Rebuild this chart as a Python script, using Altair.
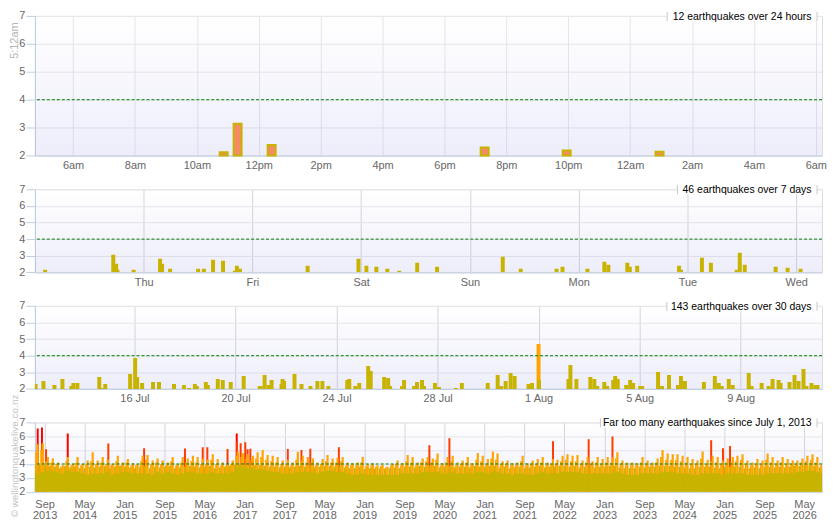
import altair as alt
import pandas as pd

FONT = "Liberation Sans"
OLIVE = "#c8b400"
ORANGE = "#ffa500"
ORANGERED = "#ff3c00"
RED = "#ff0000"
SALMON = "#f38b64"
AXIS_LINE = "#c0d0e0"
LABEL = "#666666"
W = 790

# ---------------- Panel 1: last 24 hours ----------------
p1_time = ["2026-08-11T10:52", "2026-08-11T11:19", "2026-08-11T12:25",
           "2026-08-11T19:18", "2026-08-11T21:57", "2026-08-12T00:57"]
p1_mag = [2.12, 3.14, 2.38, 2.29, 2.18, 2.14]
p1_ticks = ["2026-08-11T06:00", "2026-08-11T08:00", "2026-08-11T10:00", "2026-08-11T12:00",
            "2026-08-11T14:00", "2026-08-11T16:00", "2026-08-11T18:00", "2026-08-11T20:00",
            "2026-08-11T22:00", "2026-08-12T00:00", "2026-08-12T02:00", "2026-08-12T04:00",
            "2026-08-12T06:00"]
p1_domain = ["2026-08-11T04:46", "2026-08-12T06:12"]
p1_title = "12 earthquakes over 24 hours"

# ---------------- Panel 2: last 7 days ----------------
p2_time = ["2026-08-05T02:15", "2026-08-05T17:18", "2026-08-05T17:56", "2026-08-05T18:13", "2026-08-05T21:47",
           "2026-08-06T03:37", "2026-08-06T04:04", "2026-08-06T05:50", "2026-08-06T12:01", "2026-08-06T13:18",
           "2026-08-06T15:19", "2026-08-06T17:31", "2026-08-06T20:07", "2026-08-06T20:35", "2026-08-06T21:15",
           "2026-08-07T12:11", "2026-08-07T23:24",
           "2026-08-08T01:09", "2026-08-08T03:21", "2026-08-08T05:46", "2026-08-08T08:24", "2026-08-08T12:22",
           "2026-08-08T16:45",
           "2026-08-09T07:15", "2026-08-09T11:13", "2026-08-09T19:07", "2026-08-09T20:26",
           "2026-08-10T01:56", "2026-08-10T05:40", "2026-08-10T06:33", "2026-08-10T10:44", "2026-08-10T11:17",
           "2026-08-10T12:55", "2026-08-10T22:09", "2026-08-10T22:35",
           "2026-08-11T03:12", "2026-08-11T05:11", "2026-08-11T10:53", "2026-08-11T11:33", "2026-08-11T12:39",
           "2026-08-11T19:28", "2026-08-11T22:06",
           "2026-08-12T00:58"]
p2_mag = [2.16, 3.06, 2.52, 2.16, 2.16,
          2.82, 2.52, 2.22, 2.22, 2.22, 2.76, 2.70, 2.10, 2.40, 2.22,
          2.40, 2.82,
          2.40, 2.34, 2.22, 2.10, 2.58, 2.34,
          2.94, 2.22, 2.22, 2.34,
          2.22, 2.64, 2.46, 2.58, 2.34, 2.40, 2.40, 2.16,
          2.88, 2.58, 2.16, 3.18, 2.46, 2.34, 2.28,
          2.22]
p2_ticks = ["2026-08-06T00:00", "2026-08-07T00:00", "2026-08-08T00:00", "2026-08-09T00:00",
            "2026-08-10T00:00", "2026-08-11T00:00", "2026-08-12T00:00"]
p2_domain = ["2026-08-05T00:00", "2026-08-12T05:42"]
p2_title = "46 earthquakes over 7 days"

# ---------------- Panel 3: last 30 days ----------------
p3_time = ["2026-07-12T02:02", "2026-07-12T09:36", "2026-07-12T20:01", "2026-07-13T03:34", "2026-07-13T12:06",
           "2026-07-13T14:00", "2026-07-13T17:47", "2026-07-14T14:36", "2026-07-14T17:26", "2026-07-14T20:17",
           "2026-07-15T19:55", "2026-07-16T00:40", "2026-07-16T02:33", "2026-07-16T07:17", "2026-07-16T17:41",
           "2026-07-16T23:22", "2026-07-17T13:34", "2026-07-17T23:02", "2026-07-18T03:46", "2026-07-18T09:27",
           "2026-07-18T11:20", "2026-07-18T19:51", "2026-07-18T21:45", "2026-07-19T07:12", "2026-07-19T11:56",
           "2026-07-19T19:30", "2026-07-20T07:49", "2026-07-20T22:57", "2026-07-20T23:54", "2026-07-21T03:41",
           "2026-07-21T07:29", "2026-07-21T10:19", "2026-07-21T19:47", "2026-07-21T20:44", "2026-07-21T22:09",
           "2026-07-22T08:05", "2026-07-22T14:43", "2026-07-22T23:14", "2026-07-23T05:51", "2026-07-23T10:35",
           "2026-07-23T16:15", "2026-07-24T10:14", "2026-07-24T12:08", "2026-07-24T17:49", "2026-07-24T21:36",
           "2026-07-25T06:07", "2026-07-25T08:29", "2026-07-25T21:16", "2026-07-26T01:02", "2026-07-26T02:56",
           "2026-07-26T14:17", "2026-07-26T16:10", "2026-07-27T01:38", "2026-07-27T04:29", "2026-07-27T09:13",
           "2026-07-27T11:07", "2026-07-27T21:31", "2026-07-28T01:18", "2026-07-28T17:24", "2026-07-28T23:04",
           "2026-07-29T23:40", "2026-07-30T09:08", "2026-07-30T12:27", "2026-07-30T16:42", "2026-07-30T21:26",
           "2026-07-31T01:13", "2026-07-31T14:28", "2026-07-31T17:47", "2026-07-31T23:57", "2026-08-01T00:24",
           "2026-08-02T04:21", "2026-08-02T06:14", "2026-08-02T11:55", "2026-08-03T01:10", "2026-08-03T04:58",
           "2026-08-03T07:47", "2026-08-03T14:24", "2026-08-03T17:14", "2026-08-03T22:55", "2026-08-04T00:49",
           "2026-08-04T03:11", "2026-08-04T11:14", "2026-08-04T15:01", "2026-08-04T17:51", "2026-08-05T00:29",
           "2026-08-05T02:23", "2026-08-05T17:31", "2026-08-05T21:17", "2026-08-06T03:54", "2026-08-06T12:26",
           "2026-08-06T15:16", "2026-08-06T19:03", "2026-08-07T13:02", "2026-08-07T23:27", "2026-08-08T03:14",
           "2026-08-08T06:04", "2026-08-08T12:42", "2026-08-08T16:29", "2026-08-09T07:38", "2026-08-09T10:28",
           "2026-08-09T19:55", "2026-08-10T02:33", "2026-08-10T06:20", "2026-08-10T12:01", "2026-08-10T13:55",
           "2026-08-10T22:26", "2026-08-11T03:10", "2026-08-11T06:58", "2026-08-11T11:41", "2026-08-11T14:31",
           "2026-08-11T19:15", "2026-08-11T23:02", "2026-08-12T00:56"]
p3_mag = [2.30, 2.48, 2.24, 2.60, 2.18, 2.36, 2.36, 2.72, 2.06, 2.30,
          2.90, 3.86, 2.72, 2.36, 2.42, 2.42, 2.30, 2.24, 2.06, 2.30,
          2.18, 2.42, 2.24, 2.60, 2.54, 2.42, 2.78, 2.18, 2.18, 2.84,
          2.24, 2.54, 2.30, 2.60, 2.48, 2.90, 2.30, 2.18, 2.48, 2.48,
          2.18, 2.54, 2.60, 2.18, 2.36, 3.38, 3.08, 2.72, 2.66, 2.18,
          2.18, 2.54, 2.18, 2.42, 2.54, 2.18, 2.36, 2.12, 2.06, 2.36,
          2.36, 2.84, 2.18, 2.48, 2.96, 2.78, 2.30, 2.36, 4.70, 2.54,
          2.60, 3.44, 2.60, 2.72, 2.60, 2.18, 2.42, 2.18, 2.54, 2.78,
          2.60, 2.24, 2.54, 2.36, 2.18, 2.18, 3.02, 2.18, 2.84, 2.24,
          2.78, 2.48, 2.42, 2.78, 2.36, 2.18, 2.60, 2.24, 2.96, 2.18,
          2.36, 2.18, 2.60, 2.54, 2.36, 2.42, 2.84, 2.48, 3.20, 2.18,
          2.36, 2.24, 2.24]
p3_ticks = ["2026-07-16T00:00", "2026-07-20T00:00", "2026-07-24T00:00", "2026-07-28T00:00",
            "2026-08-01T00:00", "2026-08-05T00:00", "2026-08-09T00:00"]
p3_domain = ["2026-07-12T01:26", "2026-08-12T05:17"]
p3_title = "143 earthquakes over 30 days"

# ---------------- Panel 4: since July 2013 (monthly summaries) ----------------
p4_months = pd.date_range("2013-07-01", periods=158, freq="MS")
# level of the dense sub-4 activity per month
p4_base = [3.3, 3.4, 3.5, 3.5, 3.4, 3.3, 3.5, 3.4, 3.4, 3.3,
           3.2, 3.3, 3.3, 3.3, 3.4, 3.2, 3.3, 3.4, 3.4, 3.3,
           3.3, 3.3, 3.3, 3.2, 3.4, 3.3, 3.4, 3.3, 3.2, 3.3,
           3.4, 3.4, 3.3, 3.3, 3.3, 3.4, 3.3, 3.3, 3.3, 3.4,
           3.8, 3.8, 3.7, 3.7, 3.6, 3.6, 3.5, 3.4, 3.4, 3.3,
           3.3, 3.3, 3.4, 3.4, 3.4, 3.4, 3.3, 3.4, 3.5, 3.5,
           3.4, 3.4, 3.3, 3.2, 3.2, 3.3, 3.2, 3.2, 3.2, 3.2,
           3.2, 3.2, 3.2, 3.3, 3.3, 3.3, 3.3, 3.4, 3.4, 3.4,
           3.4, 3.3, 3.3, 3.4, 3.3, 3.3, 3.3, 3.3, 3.4, 3.4,
           3.3, 3.4, 3.4, 3.3, 3.3, 3.2, 3.3, 3.3, 3.2, 3.2,
           3.3, 3.4, 3.3, 3.3, 3.3, 3.4, 3.4, 3.4, 3.4, 3.3,
           3.3, 3.3, 3.3, 3.3, 3.3, 3.3, 3.4, 3.3, 3.2, 3.2,
           3.2, 3.3, 3.3, 3.3, 3.3, 3.4, 3.4, 3.4, 3.3, 3.3,
           3.3, 3.2, 3.2, 3.3, 3.3, 3.3, 3.3, 3.2, 3.3, 3.3,
           3.3, 3.3, 3.2, 3.2, 3.2, 3.2, 3.3, 3.3, 3.3, 3.3,
           3.3, 3.3, 3.4, 3.4, 3.5, 3.5, 3.4, 3.3]
# largest quake below M4 in each month
p4_peak = [3.9, 3.95, 3.9, 3.85, 3.8, 3.7, 3.85, 3.75, 3.8, 3.7,
           3.7, 3.8, 3.75, 3.8, 3.85, 3.7, 3.8, 3.85, 3.8, 3.75,
           3.7, 3.8, 3.85, 3.7, 3.8, 3.75, 3.8, 3.85, 3.7, 3.75,
           3.8, 3.85, 3.8, 3.75, 3.8, 3.85, 3.7, 3.75, 3.8, 3.85,
           3.95, 3.95, 3.95, 3.9, 3.9, 3.9, 3.85, 3.8, 3.8, 3.75,
           3.8, 3.75, 3.8, 3.85, 3.8, 3.85, 3.75, 3.8, 3.85, 3.85,
           3.8, 3.85, 3.75, 3.7, 3.7, 3.8, 3.65, 3.7, 3.65, 3.7,
           3.65, 3.7, 3.75, 3.7, 3.8, 3.8, 3.75, 3.85, 3.8, 3.85,
           3.85, 3.75, 3.8, 3.85, 3.75, 3.8, 3.8, 3.75, 3.85, 3.8,
           3.8, 3.85, 3.85, 3.75, 3.8, 3.7, 3.75, 3.8, 3.7, 3.75,
           3.8, 3.85, 3.75, 3.8, 3.8, 3.85, 3.85, 3.8, 3.85, 3.75,
           3.8, 3.8, 3.75, 3.8, 3.8, 3.85, 3.85, 3.75, 3.7, 3.7,
           3.7, 3.8, 3.75, 3.8, 3.8, 3.85, 3.85, 3.85, 3.8, 3.8,
           3.75, 3.7, 3.7, 3.8, 3.8, 3.8, 3.75, 3.7, 3.8, 3.8,
           3.8, 3.8, 3.7, 3.7, 3.75, 3.7, 3.8, 3.8, 3.75, 3.8,
           3.75, 3.8, 3.85, 3.85, 3.9, 3.9, 3.85, 3.75]
# largest M4-M5 quake in each month
p4_orange = [5.4, 5.5, 4.5, 4.4, 4.1, 3.9, 4.5, 4.0, 4.5, 4.0,
             4.25, 4.85, 4.25, 4.5, 4.3, 4.0, 4.6, 4.1, 4.35, 4.05,
             4.0, 4.6, 4.65, 4.25, 4.4, 4.25, 4.1, 4.5, 4.0, 4.5,
             4.4, 4.6, 4.5, 4.4, 4.3, 4.7, 4.35, 4.1, 4.0, 4.25,
             4.9, 4.8, 4.7, 4.6, 4.85, 5.0, 4.65, 4.6, 4.5, 4.25,
             4.3, 4.1, 4.88, 4.6, 4.5, 4.4, 4.1, 4.35, 4.65, 4.4,
             4.45, 4.5, 4.1, 4.05, 4.1, 4.5, 4.0, 4.05, 3.9, 3.95,
             3.8, 4.0, 4.25, 4.05, 4.65, 4.5, 4.1, 4.4, 4.5, 4.4,
             4.75, 4.05, 4.5, 4.6, 4.1, 4.25, 4.5, 4.05, 4.8, 4.6,
             4.35, 4.9, 4.75, 4.2, 4.25, 4.05, 4.1, 4.6, 4.05, 4.25,
             4.35, 4.5, 4.1, 4.35, 4.3, 4.6, 4.7, 4.6, 4.65, 4.25,
             4.5, 4.2, 4.5, 4.35, 4.5, 4.5, 4.85, 4.25, 4.1, 4.1,
             4.05, 4.5, 4.25, 4.1, 4.4, 5.0, 4.75, 4.7, 4.7, 4.6,
             4.5, 4.35, 4.25, 4.9, 4.3, 4.6, 4.5, 4.25, 4.4, 4.5,
             4.6, 4.7, 4.25, 4.1, 4.35, 4.25, 4.75, 4.5, 4.25, 4.5,
             4.35, 4.25, 4.25, 4.4, 4.6, 4.7, 4.5, 4.0]
# second-largest M4-ish quake in each month
p4_orange2 = [4.9, 5.0, 4.2, 4.1, 4.0, 3.8, 4.2, 3.9, 4.1, 3.9,
              4.0, 4.2, 4.0, 4.1, 4.0, 3.9, 4.2, 3.9, 4.1, 3.9,
              3.9, 4.2, 4.3, 4.0, 4.1, 4.0, 3.9, 4.2, 3.9, 4.1,
              4.1, 4.2, 4.1, 4.0, 4.0, 4.3, 4.0, 3.9, 3.9, 4.0,
              4.6, 4.5, 4.4, 4.3, 4.4, 4.5, 4.3, 4.2, 4.1, 4.0,
              4.0, 3.9, 4.3, 4.2, 4.1, 4.1, 3.9, 4.0, 4.2, 4.1,
              4.1, 4.2, 3.9, 3.9, 3.9, 4.1, 3.85, 3.9, 3.8, 3.85,
              3.75, 3.9, 4.0, 3.9, 4.2, 4.1, 3.9, 4.1, 4.2, 4.1,
              4.3, 3.9, 4.1, 4.2, 3.9, 4.0, 4.1, 3.9, 4.3, 4.2,
              4.0, 4.4, 4.3, 4.0, 4.0, 3.9, 3.9, 4.2, 3.9, 4.0,
              4.0, 4.1, 3.9, 4.0, 4.0, 4.2, 4.3, 4.2, 4.2, 4.0,
              4.1, 4.0, 4.1, 4.0, 4.1, 4.1, 4.4, 4.0, 3.9, 3.9,
              3.9, 4.1, 4.0, 3.9, 4.1, 4.5, 4.3, 4.3, 4.3, 4.2,
              4.1, 4.0, 4.0, 4.4, 4.0, 4.2, 4.1, 4.0, 4.1, 4.1,
              4.2, 4.3, 4.0, 3.9, 4.0, 4.0, 4.3, 4.1, 4.0, 4.1,
              4.0, 4.0, 4.0, 4.1, 4.2, 4.3, 4.1, 3.9]
# individual M5+ quakes
p4_big_time = ["2013-07-21", "2013-07-22", "2013-08-16", "2013-08-18", "2013-09-10", "2014-01-20",
               "2014-09-24", "2015-04-30", "2016-01-04", "2016-04-21", "2016-05-19", "2016-09-19",
               "2016-11-14", "2016-11-15", "2016-12-08", "2017-01-05", "2017-01-19", "2017-02-05",
               "2017-09-21", "2017-12-13", "2018-02-05", "2018-07-29", "2020-01-31", "2020-06-01",
               "2022-02-22", "2022-09-27", "2023-02-19", "2024-10-12", "2024-12-23", "2025-02-04"]
p4_big_mag = [6.57, 5.5, 6.64, 5.45, 5.07, 6.2,
              5.48, 5.14, 5.12, 5.2, 5.2, 5.08,
              6.2, 5.6, 5.5, 5.57, 5.07, 5.1,
              5.08, 5.0, 5.1, 5.2, 5.36, 5.86,
              5.64, 5.79, 5.98, 5.71, 5.14, 5.29]
p4_ticks = ["2013-09-01", "2014-05-01", "2015-01-01", "2015-09-01", "2016-05-01", "2017-01-01",
            "2017-09-01", "2018-05-01", "2019-01-01", "2019-09-01", "2020-05-01", "2021-01-01",
            "2021-09-01", "2022-05-01", "2023-01-01", "2023-09-01", "2024-05-01", "2025-01-01",
            "2025-09-01", "2026-05-01"]
p4_domain = ["2013-07-04", "2026-08-18"]
p4_title = "Far too many earthquakes since July 1, 2013"


def dt(s):
    t = pd.Timestamp(s)
    return alt.DateTime(year=t.year, month=t.month, date=t.day, hours=t.hour, minutes=t.minute)


def ts(values):
    return [pd.Timestamp(v) for v in values]


MAG_COLOR = alt.Color("mag:Q", legend=None,
                      scale=alt.Scale(type="threshold", domain=[4, 5, 6],
                                      range=[OLIVE, ORANGE, ORANGERED, RED]))

ONE = pd.DataFrame({"k": [0]})


def x_enc(field, domain, ticks, expr, grid_color, pad=4, line_height=None):
    kw = dict(values=[dt(v) for v in ticks], labelExpr=expr, grid=True, gridColor=grid_color,
              gridWidth=1, ticks=False, domainColor=AXIS_LINE, domainWidth=1, labelPadding=pad,
              labelColor=LABEL, labelFont=FONT, labelFontSize=11, labelOverlap=False,
              labelFlush=False, title=None)
    if line_height:
        kw["labelLineHeight"] = line_height
    return alt.X(field + ":T",
                 scale=alt.Scale(domain=[dt(domain[0]), dt(domain[1])], padding=0, nice=False),
                 axis=alt.Axis(**kw))


def y_enc(title_kw=None):
    kw = dict(values=[2, 3, 4, 5, 6, 7], grid=True, gridColor="#e8e8ec", domainColor=AXIS_LINE,
              tickColor=AXIS_LINE, tickSize=9, labelPadding=1, labelColor=LABEL,
              labelFont=FONT, labelFontSize=11, title=None)
    if title_kw:
        kw.update(title_kw)
    return alt.Y("mag:Q", scale=alt.Scale(domain=[2, 7], nice=False, zero=False, padding=0),
                 axis=alt.Axis(**kw))


def background(H):
    grad = alt.LinearGradient(
        gradient="linear",
        stops=[alt.GradientStop(color="rgba(120,120,220,0)", offset=0),
               alt.GradientStop(color="rgba(120,120,220,0.13)", offset=1)],
        x1=0, x2=0, y1=0, y2=1)
    return alt.Chart(ONE).mark_rect(color=grad).encode(
        x=alt.value(0), x2=alt.value(W), y=alt.value(0), y2=alt.value(H))


def extras(text, box_w, yk):
    rule4 = alt.Chart(pd.DataFrame({"mag": [4]})).mark_rule(
        color="#008000", strokeDash=[3, 2], strokeWidth=1).encode(y=y_enc(yk))
    bg = alt.Chart(ONE).mark_rect(color="white").encode(
        x=alt.value(W - box_w), x2=alt.value(W - 5), y=alt.value(-4), y2=alt.value(5))
    s1 = alt.Chart(ONE).mark_rule(color="#c8c8c8").encode(
        x=alt.value(W - box_w), y=alt.value(-4), y2=alt.value(5))
    s2 = alt.Chart(ONE).mark_rule(color="#c8c8c8").encode(
        x=alt.value(W - 5), y=alt.value(-4), y2=alt.value(5))
    txt = alt.Chart(ONE).mark_text(text=text, align="right", baseline="middle", font=FONT,
                                   fontSize=10.5, color="#000000").encode(
        x=alt.value(W - 10.5), y=alt.value(1))
    return [rule4, bg, s1, s2, txt]


H1, H2, H3, H4 = 140.2, 83.4, 83.4, 69.5

# ---- panel 1
yk1 = dict(title="5:12am", titleX=-20, titleY=6, titleAngle=270, titleAlign="right",
           titleBaseline="middle", titleColor="#b4b4b4", titleFont=FONT, titleFontSize=11,
           titleFontWeight="normal")
df1 = pd.DataFrame({"t": ts(p1_time), "mag": p1_mag})
x1 = x_enc("t", p1_domain, p1_ticks, "lower(timeFormat(datum.value, '%-I%p'))", "#e6e6ee")
bars1 = alt.Chart(df1).mark_bar(size=8, color=SALMON, stroke=OLIVE, strokeWidth=2).encode(
    x=x1, y=y_enc(yk1), y2=alt.datum(2))
panel1 = alt.layer(background(H1), bars1, *extras(p1_title, 155.4, yk1)).properties(
    width=W, height=H1)

# ---- panel 2
df2 = pd.DataFrame({"t": ts(p2_time), "mag": p2_mag})
x2 = x_enc("t", p2_domain, p2_ticks, "timeFormat(datum.value, '%a')", "#d6d6de")
bars2 = alt.Chart(df2).mark_bar(size=4, clip=True).encode(
    x=x2, y=y_enc(), y2=alt.datum(2), color=MAG_COLOR)
panel2 = alt.layer(background(H2), bars2, *extras(p2_title, 145, None)).properties(
    width=W, height=H2)

# ---- panel 3
df3 = pd.DataFrame({"t": ts(p3_time), "mag": p3_mag})
x3 = x_enc("t", p3_domain, p3_ticks, "timeFormat(datum.value, '%-d %b')", "#d6d6de")
bars3 = alt.Chart(df3).mark_bar(size=4, clip=True).encode(
    x=x3, y=y_enc(), y2=alt.datum(2), color=MAG_COLOR)
panel3 = alt.layer(background(H3), bars3, *extras(p3_title, 155.7, None)).properties(
    width=W, height=H3)

# ---- panel 4
yk4 = dict(title="\u00a9 wellingtonquakelive.co.nz", titleX=-20, titleY=95, titleAngle=270,
           titleAlign="left", titleBaseline="middle", titleColor="#c4c4c4", titleFont=FONT,
           titleFontSize=10, titleFontWeight="normal")
x4 = x_enc("t", p4_domain, p4_ticks,
           "[timeFormat(datum.value, '%b'), timeFormat(datum.value, '%Y')]", "#d6d6de",
           pad=6.5, line_height=11.5)
df_big = pd.DataFrame({"t": ts(p4_big_time), "mag": p4_big_mag})
df_orange = pd.DataFrame({"t": p4_months + pd.Timedelta(days=20), "mag": p4_orange})
df_orange2 = pd.DataFrame({"t": p4_months + pd.Timedelta(days=10), "mag": p4_orange2})
df_peak = pd.DataFrame({"t": p4_months + pd.Timedelta(days=2), "mag": p4_peak})
df_base = pd.DataFrame({"t": p4_months, "t2": p4_months + pd.offsets.MonthBegin(1),
                        "mag": p4_base})
big = alt.Chart(df_big).mark_bar(size=2, clip=True).encode(
    x=x4, y=y_enc(yk4), y2=alt.datum(2), color=MAG_COLOR)
orange = alt.Chart(df_orange).mark_bar(size=2.2, clip=True, color=ORANGE).encode(
    x=x4, y=y_enc(yk4), y2=alt.datum(2))
orange2 = alt.Chart(df_orange2).mark_bar(size=1.8, clip=True, color=ORANGE).encode(
    x=x4, y=y_enc(yk4), y2=alt.datum(2))
peak = alt.Chart(df_peak).mark_bar(size=1.8, clip=True, color=OLIVE).encode(
    x=x4, y=y_enc(yk4), y2=alt.datum(2))
base = alt.Chart(df_base).mark_bar(clip=True, color=OLIVE, stroke=OLIVE, strokeWidth=0.5).encode(
    x=x4, x2="t2:T", y=y_enc(yk4), y2=alt.datum(2))
panel4 = alt.layer(background(H4), big, orange, orange2, peak, base,
                   *extras(p4_title, 222.4, yk4)).properties(width=W, height=H4)

chart = alt.vconcat(panel1, panel2, panel3, panel4, spacing=33, bounds="flush").properties(
    padding=0
).configure_view(
    stroke="#dcdce2"
).configure(background="white", font=FONT)

chart.save("out.html", embed_options={"renderer": "svg", "actions": False})
